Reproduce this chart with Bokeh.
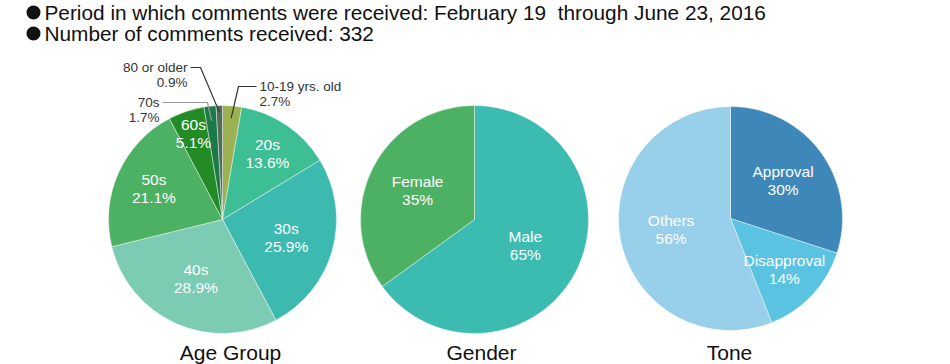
import math
from bokeh.plotting import figure
from bokeh.models import Range1d, ColumnDataSource
from bokeh.core.properties import value
from bokeh.embed import file_html
from bokeh.resources import INLINE

# ---------------- data ----------------
header_lines = [
    "Period in which comments were received: February 19\u00a0 through June 23, 2016",
    "Number of comments received: 332",
]

age_categories = ["10-19 yrs. old", "20s", "30s", "40s", "50s", "60s", "70s", "80 or older"]
age_values = [2.7, 13.6, 25.9, 28.9, 21.1, 5.1, 1.7, 0.9]
age_labels = ["2.7%", "13.6%", "25.9%", "28.9%", "21.1%", "5.1%", "1.7%", "0.9%"]

gender_categories = ["Male", "Female"]
gender_values = [65, 35]
gender_labels = ["65%", "35%"]

tone_categories = ["Approval", "Disapproval", "Others"]
tone_values = [30, 14, 56]
tone_labels = ["30%", "14%", "56%"]

titles = ["Age Group", "Gender", "Tone"]

# ---------------- styles / layout ----------------
W, H = 950, 364
FONT = "Liberation Sans"

age_colors = ["#9bb152", "#3dbe94", "#3cbaaf", "#7bccb3", "#4db163", "#238b25", "#1b7a48", "#4f6d5a"]
gender_colors = ["#3cbbb0", "#4db163"]
tone_colors = ["#3d88b8", "#5ac3e2", "#98cfea"]

# label radius fractions for inside labels (None -> outside label with leader)
age_label_r = [None, 0.70, 0.58, 0.57, 0.66, 0.80, None, None]
gender_label_r = [0.50, 0.56]
tone_label_r = [0.58, 0.66, 0.54]


def P(X, Y):
    """page pixel -> data coordinates"""
    return X, H - Y


p = figure(width=W, height=H, output_backend="svg", toolbar_location=None,
           x_range=Range1d(0, W), y_range=Range1d(0, H),
           min_border=0, outline_line_color=None)
p.axis.visible = False
p.grid.visible = False
p.background_fill_color = "white"
p.border_fill_color = "white"


def draw_pie(cx, cy, r, cats, vals, colors, labs, label_r, title, title_x, title_y):
    x0, y0 = P(cx, cy)
    total = float(sum(vals))
    starts, ends, mids = [], [], []
    c = 0.0
    for v in vals:
        c0 = c
        c1 = c + v / total
        starts.append(math.pi / 2 - 2 * math.pi * c1)
        ends.append(math.pi / 2 - 2 * math.pi * c0)
        mids.append(math.pi / 2 - 2 * math.pi * (c0 + c1) / 2)
        c = c1
    src = ColumnDataSource(dict(x=[x0] * len(vals), y=[y0] * len(vals),
                                s=starts, e=ends, color=colors))
    p.wedge(x="x", y="y", radius=r, start_angle="s", end_angle="e",
            direction="anticlock", fill_color="color",
            line_color="white", line_width=0.6, line_alpha=0.7, source=src)
    tx, ty1, ty2, tt1, tt2 = [], [], [], [], []
    for cat, lab, lr, m in zip(cats, labs, label_r, mids):
        if lr is None:
            continue
        lx = x0 + lr * r * math.cos(m)
        ly = y0 + lr * r * math.sin(m)
        tx.append(lx)
        ty1.append(ly + 9)
        ty2.append(ly - 9)
        tt1.append(cat)
        tt2.append(lab)
    p.text(x=tx + tx, y=ty1 + ty2, text=tt1 + tt2, text_color="white",
           text_font=value(FONT), text_font_size="15.5px",
           text_align="center", text_baseline="middle")
    tx0, tyy = P(title_x, title_y)
    p.text(x=[tx0], y=[tyy], text=[title], text_color="#111111",
           text_font=value(FONT), text_font_size="21px",
           text_align="center", text_baseline="middle")
    return x0, y0, mids


# header
hx, hy1 = P(33, 12)
_, hy2 = P(33, 33)
p.scatter(x=[hx, hx], y=[hy1, hy2], size=14, marker="circle",
          fill_color="#111111", line_color=None)
p.text(x=[hx + 11, hx + 11], y=[hy1, hy2], text=header_lines,
       text_color="#111111", text_font=value(FONT), text_font_size="20.8px",
       text_align="left", text_baseline="middle")

# pies
R = 114
ax0, ay0, age_mids = draw_pie(222, 219, R, age_categories, age_values, age_colors,
                              age_labels, age_label_r, titles[0], 230, 352)
draw_pie(474, 219, R, gender_categories, gender_values, gender_colors,
         gender_labels, gender_label_r, titles[1], 481, 352)
draw_pie(730, 218, 112, tone_categories, tone_values, tone_colors,
         tone_labels, tone_label_r, titles[2], 729, 352)

# leader lines for small age slices: (index, end radius frac, elbow page pt, text end page pt, align, color)
leaders = [
    (0, 0.89, (238, 86), (256, 86), "left", "#333333"),
    (6, 0.87, (207, 102), (162, 102), "right", "#999999"),
    (7, 0.94, (200, 67), (190, 67), "right", "#333333"),
]
for idx, frac, elbow, tend, align, col in leaders:
    m = age_mids[idx]
    ex = ax0 + frac * R * math.cos(m)
    ey = ay0 + frac * R * math.sin(m)
    bx, by = P(*elbow)
    tx_, ty_ = P(*tend)
    p.line(x=[ex, bx, tx_], y=[ey, by, ty_], line_color=col, line_width=1.2)
    lx = tx_ + (3 if align == "left" else -3)
    p.text(x=[lx, lx], y=[ty_, ty_ - 15],
           text=[age_categories[idx], age_labels[idx]],
           text_color="#333333", text_font=value(FONT), text_font_size="13.5px",
           text_align=align, text_baseline="middle")

open("out.html", "w").write(file_html(p, INLINE))
